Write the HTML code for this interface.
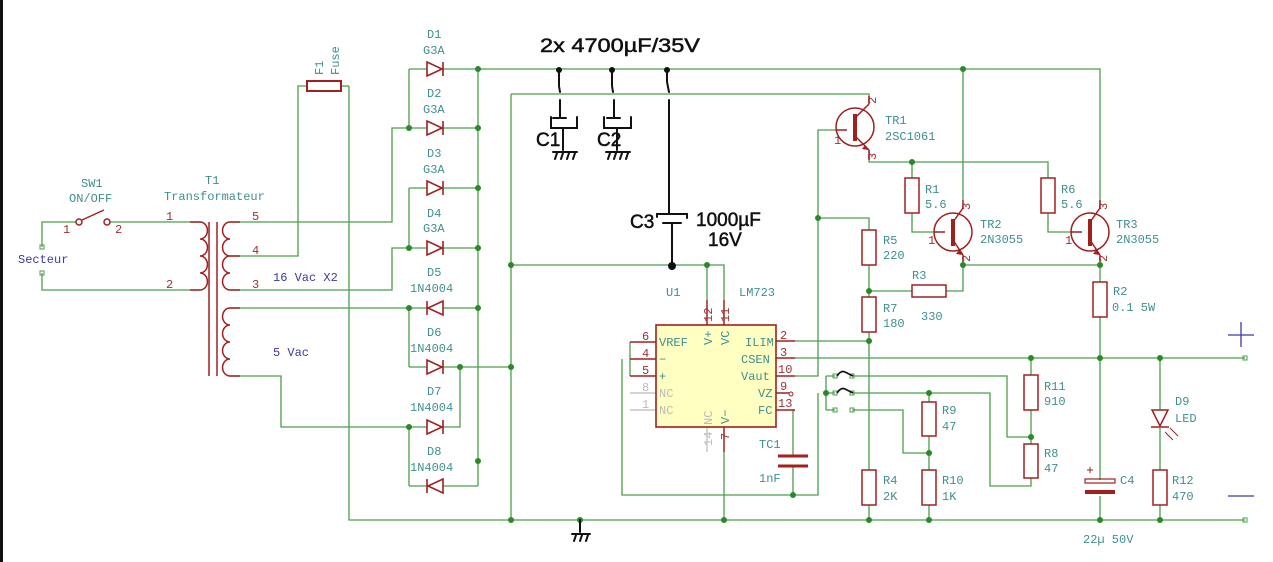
<!DOCTYPE html>
<html><head><meta charset="utf-8"><style>
html,body{margin:0;padding:0;background:#fff;}
svg{display:block;}
text{font-family:"Liberation Mono",monospace;font-size:12px;fill:#3f8f8f;}
.r{fill:#a03030;}
.b{fill:#3a3aa0;}
.g{fill:#bbb;}
.h{font-family:"Liberation Sans",sans-serif;fill:#111;font-size:19px;stroke:#111;stroke-width:0.5;}
</style></head><body>
<svg width="1273" height="562" viewBox="0 0 1273 562" xmlns="http://www.w3.org/2000/svg">
<rect width="1273" height="562" fill="#fff"/>
<rect x="0" y="0" width="3" height="562" fill="#111"/>
<g stroke="#4a9e4a" stroke-width="1.3" fill="none">
<path d="M478 69H1100V205"/>
<path d="M963 69V200"/>
<path d="M511 94H869V104"/>
<path d="M511 94V520"/>
<path d="M349 86V520H1245"/>
<path d="M42 247V222H76M110 222H200"/>
<path d="M42 273V290H200"/>
<path d="M230 222H392V128H409"/>
<path d="M230 256H298V86H307"/>
<path d="M341 86H349"/>
<path d="M230 290H392V248H409"/>
<path d="M230 308H409"/>
<path d="M230 376H281V427H409"/>
<path d="M409 69V128M409 188V248M409 308V367M409 427V486"/>
<path d="M478 69V486"/>
<path d="M409 69H427M443 69H478M409 128H427M443 128H478M409 188H427M443 188H478M409 248H427M443 248H478M409 308H427M443 308H478M409 367H427M443 367H511M409 427H427M443 427H460V367M409 486H427M443 486H478"/>
<path d="M511 265H724V300M707 265V300"/>
<path d="M724 452V520"/>
<path d="M630 342V376M622 359V495H818V393"/>
<path d="M795 341H869M795 358H1245M795 376H818V130H836"/>
<path d="M818 218H869V230M869 265V297M869 332V470M869 505V520"/>
<path d="M869 291H912M946 291H963V262"/>
<path d="M869 150V162H1048V178M912 162V178M912 213V232H934M1048 213V232H1071"/>
<path d="M963 262V265H1100V282M1100 317V480M1100 496V520"/>
<path d="M795 410H793V456M793 466V495"/>
<path d="M826 376V410M826 376H835M826 393H835M826 410H835"/>
<path d="M852 376H1007V437H1031M852 393H990V486H1031V478M852 410H903V453H929"/>
<path d="M929 393V402M929 436V470M929 505V520"/>
<path d="M1031 358V375M1031 410V444"/>
<path d="M1160 358V410M1160 428V470M1160 505V520"/>
</g>
<g fill="#2a8a2a">
<circle cx="478" cy="69" r="3"/><circle cx="963" cy="69" r="3"/>
<circle cx="409" cy="128" r="3"/><circle cx="478" cy="128" r="3"/><circle cx="478" cy="188" r="3"/>
<circle cx="409" cy="248" r="3"/><circle cx="478" cy="248" r="3"/><circle cx="409" cy="308" r="3"/><circle cx="478" cy="308" r="3"/>
<circle cx="460" cy="367" r="3"/><circle cx="409" cy="427" r="3"/><circle cx="478" cy="461" r="3"/>
<circle cx="511" cy="265" r="3"/><circle cx="511" cy="367" r="3"/><circle cx="511" cy="520" r="3"/>
<circle cx="580" cy="520" r="3"/><circle cx="707" cy="265" r="3"/><circle cx="724" cy="520" r="3"/>
<circle cx="818" cy="218" r="3"/><circle cx="869" cy="291" r="3"/><circle cx="869" cy="341" r="3"/><circle cx="869" cy="520" r="3"/>
<circle cx="912" cy="162" r="3"/><circle cx="963" cy="265" r="3"/><circle cx="1100" cy="265" r="3"/>
<circle cx="1031" cy="358" r="3"/><circle cx="1100" cy="358" r="3"/><circle cx="1160" cy="358" r="3"/>
<circle cx="793" cy="495" r="3"/><circle cx="826" cy="393" r="3"/><circle cx="929" cy="393" r="3"/><circle cx="929" cy="453" r="3"/><circle cx="1031" cy="437" r="3"/>
<circle cx="929" cy="520" r="3"/><circle cx="1100" cy="520" r="3"/><circle cx="1160" cy="520" r="3"/>
</g>
<g fill="none" stroke="#4a9e4a" stroke-width="1">
<rect x="40" y="245" width="4" height="4"/><rect x="40" y="271" width="4" height="4"/>
<rect x="1243" y="356" width="4" height="4"/><rect x="1243" y="518" width="4" height="4"/>
<rect x="833" y="374" width="4" height="4"/><rect x="850" y="374" width="4" height="4"/>
<rect x="833" y="391" width="4" height="4"/><rect x="850" y="391" width="4" height="4"/>
<rect x="833" y="408" width="4" height="4"/><rect x="850" y="408" width="4" height="4"/>
</g>
<g stroke="#a02020" stroke-width="1.5" fill="none">
<circle cx="79" cy="222" r="3"/><circle cx="107" cy="222" r="3"/><path d="M82 220L104 210"/>
<path d="M200 222a5 5.7 0 0 1 0 17a5 5.7 0 0 1 0 17a5 5.7 0 0 1 0 17a5 5.7 0 0 1 0 17"/>
<path d="M230 222a5 5.7 0 0 0 0 17a5 5.7 0 0 0 0 17a5 5.7 0 0 0 0 17a5 5.7 0 0 0 0 17"/>
<path d="M230 308a5 5.7 0 0 0 0 17a5 5.7 0 0 0 0 17a5 5.7 0 0 0 0 17a5 5.7 0 0 0 0 17"/>
<path d="M209 222V376M217 222V376"/>
<path d="M200 222H190M200 290H190M230 222H240M230 256H240M230 290H240M230 308H240M230 376H240"/>
<rect x="307" y="81" width="34" height="10" stroke-width="2"/>
<rect x="862" y="230" width="14" height="35"/><rect x="862" y="297" width="14" height="35"/><rect x="862" y="470" width="14" height="35"/>
<rect x="905" y="178" width="14" height="35"/><rect x="1041" y="178" width="14" height="35"/>
<rect x="912" y="285" width="34" height="12"/>
<rect x="1093" y="282" width="14" height="35"/>
<rect x="922" y="402" width="14" height="34"/><rect x="922" y="470" width="14" height="35"/>
<rect x="1024" y="375" width="14" height="35"/><rect x="1024" y="444" width="14" height="34"/>
<rect x="1153" y="470" width="14" height="35"/>
<circle cx="855" cy="127" r="19"/><circle cx="953" cy="232" r="19"/><circle cx="1090" cy="232" r="19"/>
<path d="M836 130H847M869 104L855 118M855 136L869 150M869 104V96M869 150V160"/>
<path d="M934 232H945M963 208L953 222M953 240L963 255M963 200V208M963 255V262"/>
<path d="M1071 232H1082M1100 208L1090 222M1090 240L1100 255M1100 200V208M1100 255V262"/>
<path d="M630 342H656M630 359H656M630 376H656M776 341H795M776 358H795M776 376H795M776 393H789M776 410H795M707 300V325M724 300V325M724 427V452"/>
<path d="M778 456H808M778 466H808" stroke-width="3"/>
<rect x="1085" y="479" width="30" height="4" stroke-width="1.2"/>
<path d="M1085 492H1115" stroke-width="4"/>
<path d="M1087 470h6M1090 467v6" stroke-width="1"/>
<path d="M1152 410H1168L1160 426Z M1151 427H1169"/>
<path d="M1165 432l8 8M1170 428l8 8" stroke-width="1"/>
</g>
<g stroke="#bbb" stroke-width="1.2"><path d="M630 393H656M630 410H656M707 427V452"/></g>
<circle cx="791" cy="394" r="2" fill="none" stroke="#a02020"/>
<rect x="656" y="325" width="120" height="102" fill="#ffffc2" stroke="#a02020" stroke-width="1.6"/>
<g fill="none" stroke="#a02020" stroke-width="1.6">
<path d="M427 62V76L442 69Z M443 62V76"/>
<path d="M427 121V135L442 128Z M443 121V135"/>
<path d="M427 181V195L442 188Z M443 181V195"/>
<path d="M427 241V255L442 248Z M443 241V255"/>
<path d="M443 301V315L428 308Z M427 301V315"/>
<path d="M427 360V374L442 367Z M443 360V374"/>
<path d="M427 420V434L442 427Z M443 420V434"/>
<path d="M443 479V493L428 486Z M427 479V493"/>
</g>
<g fill="#a02020">
<rect x="853" y="114" width="4" height="27"/><rect x="951" y="219" width="4" height="27"/><rect x="1088" y="219" width="4" height="27"/>
<path d="M869 150l-7-1 3-4z M963 255l-7-1 3-4z M1100 255l-7-1 3-4z"/>
</g>
<g stroke="#111" stroke-width="2" fill="none" stroke-linecap="round">
<circle cx="559" cy="70" r="2" fill="#111"/><circle cx="612" cy="70" r="2" fill="#111"/><circle cx="667" cy="70" r="2" fill="#111"/>
<path d="M559 70V86L560 92M560 100V118M553 118H566M551 117V128H577V117M563 128V150M553 152H577M557 153l-2 6M563 153l-2 6M569 153l-2 6M575 153l-2 6"/>
<path d="M612 70V86L613 92M614 100V118M607 118H620M604 117V128H631V117M617 128V150M606 152H630M610 153l-2 6M616 153l-2 6M622 153l-2 6M628 153l-2 6"/>
<path d="M667 70V82L669 92M669 100V214M657 217V214H687V218M663 223H681M672 223V265"/>
<circle cx="672" cy="266" r="3" fill="#111"/>
<path d="M580 520V532M572 534H590M576 535l-2 6M582 535l-2 6M588 535l-2 6"/>
</g>
<text class="h" x="540" y="52" font-size="21" textLength="160" lengthAdjust="spacingAndGlyphs">2x 4700µF/35V</text>
<text class="h" x="536" y="146">C1</text>
<text class="h" x="597" y="146">C2</text>
<text class="h" x="630" y="228">C3</text>
<text class="h" x="696" y="226">1000µF</text>
<text class="h" x="708" y="246" font-size="17">16V</text>
<text x="81" y="187">SW1</text><text x="69" y="202">ON/OFF</text>
<text class="r" x="63" y="233">1</text><text class="r" x="115" y="233">2</text>
<text class="b" x="18" y="263">Secteur</text>
<text x="205" y="184">T1</text><text x="164" y="200">Transformateur</text>
<text class="r" x="166" y="220">1</text><text class="r" x="166" y="288">2</text>
<text class="r" x="252" y="220">5</text><text class="r" x="252" y="254">4</text><text class="r" x="252" y="288">3</text>
<text class="b" x="273" y="281">16 Vac X2</text>
<text class="b" x="273" y="356">5 Vac</text>
<text x="323" y="75" transform="rotate(-90 323 75)">F1</text>
<text x="339" y="75" transform="rotate(-90 339 75)">Fuse</text>
<text x="427" y="38">D1</text><text x="423" y="54">G3A</text>
<text x="427" y="97">D2</text><text x="423" y="113">G3A</text>
<text x="427" y="157">D3</text><text x="423" y="173">G3A</text>
<text x="427" y="217">D4</text><text x="423" y="232">G3A</text>
<text x="427" y="276">D5</text><text x="410" y="292">1N4004</text>
<text x="427" y="336">D6</text><text x="410" y="352">1N4004</text>
<text x="427" y="395">D7</text><text x="410" y="411">1N4004</text>
<text x="427" y="455">D8</text><text x="410" y="471">1N4004</text>
<text x="666" y="296">U1</text><text x="739" y="296">LM723</text>
<text class="r" x="642" y="340">6</text><text class="r" x="642" y="357">4</text><text class="r" x="642" y="374">5</text>
<text class="g" x="642" y="391">8</text><text class="g" x="642" y="408">1</text>
<text x="659" y="346">VREF</text><text x="659" y="363">−</text><text x="659" y="380">+</text>
<text class="g" x="659" y="397">NC</text><text class="g" x="659" y="414">NC</text>
<text x="745" y="346">ILIM</text><text x="741" y="363">CSEN</text><text x="741" y="380">Vaut</text><text x="758" y="397">VZ</text><text x="758" y="414">FC</text>
<text class="r" x="780" y="339">2</text><text class="r" x="780" y="356">3</text><text class="r" x="778" y="373">10</text><text class="r" x="780" y="390">9</text><text class="r" x="778" y="407">13</text>
<text x="712" y="345" transform="rotate(-90 712 345)">V+</text><text x="729" y="345" transform="rotate(-90 729 345)">VC</text>
<text class="r" x="712" y="322" transform="rotate(-90 712 322)">12</text><text class="r" x="729" y="322" transform="rotate(-90 729 322)">11</text>
<text class="g" x="712" y="425" transform="rotate(-90 712 425)">NC</text><text x="729" y="424" transform="rotate(-90 729 424)">V−</text>
<text class="g" x="712" y="446" transform="rotate(-90 712 446)">14</text><text class="r" x="729" y="440" transform="rotate(-90 729 440)">7</text>
<text x="759" y="448">TC1</text><text x="759" y="482">1nF</text>
<text x="885" y="124">TR1</text><text x="885" y="140">2SC1061</text>
<text class="r" x="834" y="144">1</text>
<text class="r" x="876" y="104" transform="rotate(-90 876 104)">2</text><text class="r" x="876" y="160" transform="rotate(-90 876 160)">3</text>
<text x="925" y="193">R1</text><text x="925" y="208">5.6</text>
<text x="1061" y="193">R6</text><text x="1061" y="208">5.6</text>
<text x="980" y="228">TR2</text><text x="980" y="243">2N3055</text>
<text x="1116" y="228">TR3</text><text x="1116" y="243">2N3055</text>
<text class="r" x="928" y="244">1</text><text class="r" x="1065" y="244">1</text>
<text class="r" x="970" y="210" transform="rotate(-90 970 210)">3</text><text class="r" x="970" y="262" transform="rotate(-90 970 262)">2</text>
<text class="r" x="1107" y="210" transform="rotate(-90 1107 210)">3</text><text class="r" x="1107" y="262" transform="rotate(-90 1107 262)">2</text>
<text x="883" y="244">R5</text><text x="883" y="259">220</text>
<text x="912" y="279">R3</text><text x="921" y="320">330</text>
<text x="883" y="312">R7</text><text x="883" y="327">180</text>
<text x="1113" y="295">R2</text><text x="1112" y="311">0.1 5W</text>
<text x="1044" y="390">R11</text><text x="1044" y="405">910</text>
<text x="942" y="414">R9</text><text x="942" y="430">47</text>
<text x="1044" y="457">R8</text><text x="1044" y="472">47</text>
<text x="883" y="484">R4</text><text x="883" y="500">2K</text>
<text x="942" y="484">R10</text><text x="942" y="500">1K</text>
<text x="1120" y="484">C4</text><text x="1083" y="543">22µ 50V</text>
<text x="1175" y="405">D9</text><text x="1175" y="422">LED</text>
<text x="1172" y="484">R12</text><text x="1172" y="500">470</text>
<path d="M1228 335H1254M1241 322V347M1228 496H1254" stroke="#3a3aa0" stroke-width="1.3"/>
<g stroke="#111" stroke-width="1.6" fill="none"><path d="M837 376q4-6 8-4t8 4M837 393q4-6 8-4t8 4"/></g>
</svg>
</body></html>
